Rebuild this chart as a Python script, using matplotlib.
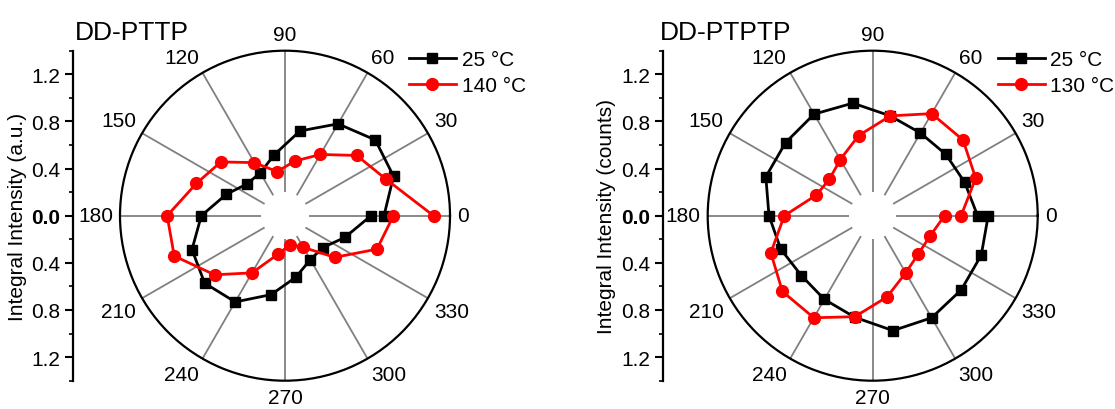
import numpy as np
import matplotlib
matplotlib.use('Agg')
import matplotlib.pyplot as plt
from matplotlib.ticker import FixedLocator, MultipleLocator, FuncFormatter

plt.rcParams['font.family'] = ['Liberation Sans', 'DejaVu Sans']

# ---------------- data ----------------
angles_deg = [0, 20, 40, 60, 80, 100, 120, 140, 160, 180,
              200, 220, 240, 260, 280, 300, 320, 340, 360]

pttp_25 = [0.84, 0.98, 1.00, 0.90, 0.73, 0.525, 0.42, 0.42, 0.53, 0.71,
           0.84, 0.89, 0.845, 0.68, 0.53, 0.43, 0.42, 0.54, 0.73]
pttp_140 = [1.26, 0.91, 0.795, 0.60, 0.47, 0.38, 0.52, 0.71, 0.80, 1.00,
            1.00, 0.78, 0.56, 0.33, 0.25, 0.31, 0.55, 0.83, 0.92]

ptptp_25 = [0.89, 0.83, 0.81, 0.81, 0.86, 0.97, 0.995, 0.965, 0.965, 0.88,
            0.83, 0.79, 0.82, 0.875, 0.99, 1.00, 0.98, 0.98, 0.98]
ptptp_130 = [0.75, 0.93, 1.00, 1.00, 0.86, 0.69, 0.55, 0.48, 0.51, 0.75,
             0.92, 1.00, 1.00, 0.87, 0.70, 0.56, 0.505, 0.515, 0.61]

theta_ticks = [0, 30, 60, 90, 120, 150, 180, 210, 240, 270, 300, 330]
theta_labels = [str(t) for t in theta_ticks]
theta_minor = [15, 45, 75, 105, 135, 165, 195, 225, 255, 285, 315, 345]
r_ticks = [-1.2, -0.8, -0.4, 0.0, 0.4, 0.8, 1.2]
r_max = 1.4
r_spoke_start = 0.2

titles = ['DD-PTTP', 'DD-PTPTP']
ylabels = ['Integral Intensity (a.u.)', 'Integral Intensity (counts)']
series_labels = [['25 °C', '140 °C'], ['25 °C', '130 °C']]
series_values = [[pttp_25, pttp_140], [ptptp_25, ptptp_130]]

# ---------------- layout ----------------
W, H = 1115, 410
fig = plt.figure(figsize=(W / 100, H / 100), dpi=100)


def fx(px):
    return px / W


def fy(py):
    return 1 - py / H


R = 165
cy = 216.7
centers_x = [285, 872.7]
title_x = [75, 660]
axis_x = [73, 662.5]
ylabel_x = [18, 606]
legend_x = [409, 997.7]

for i in range(2):
    cx = centers_x[i]
    ax = fig.add_axes([fx(cx - R), fy(cy + R), 2 * R / W, 2 * R / H],
                      projection='polar')
    ax.set_ylim(0, r_max)
    ax.grid(False)
    ax.set_yticks([])
    ax.spines['polar'].set_linewidth(1.6)
    ax.set_xticks(np.deg2rad(theta_ticks))
    ax.set_xticklabels(theta_labels, fontsize=15)
    ax.set_xticks(np.deg2rad(theta_minor), minor=True)
    ax.tick_params(axis='x', which='major', direction='in', length=6,
                   width=1.5, color='black', pad=-2)
    ax.tick_params(axis='x', which='minor', direction='in', length=4,
                   width=1.2, color='black')
    # anchor each angle label by its edge facing the circle
    for t, lbl in zip(theta_ticks, ax.get_xticklabels()):
        c, s = np.cos(np.deg2rad(t)), np.sin(np.deg2rad(t))
        lbl.set_ha('left' if c > 0.1 else ('right' if c < -0.1 else 'center'))
        lbl.set_va('bottom' if s > 0.1 else ('top' if s < -0.1 else 'center'))

    # spokes
    ax.vlines(np.deg2rad(theta_ticks), r_spoke_start, r_max,
              colors='#808080', linewidth=1.3, zorder=1)

    th = np.deg2rad(angles_deg)
    l1, = ax.plot(th, series_values[i][0], color='black', lw=2, marker='s',
                  ms=7, zorder=3, clip_on=False, label=series_labels[i][0])
    l2, = ax.plot(th, series_values[i][1], color='#ff0000', lw=2, marker='o',
                  ms=8.5, zorder=4, clip_on=False, label=series_labels[i][1])

    fig.legend(handles=[l1, l2], loc='upper left',
               bbox_to_anchor=(fx(legend_x[i]), fy(51)),
               bbox_transform=fig.transFigure, frameon=False, fontsize=15,
               borderpad=0, borderaxespad=0, handlelength=2.25,
               handletextpad=0.28, labelspacing=0.35, numpoints=1)

    fig.text(fx(title_x[i]), fy(39.5), titles[i], fontsize=19,
             ha='left', va='baseline')

    # linear radial scale axis on the left
    axl = fig.add_axes([fx(axis_x[i]), fy(cy + R), 0.02, 2 * R / H])
    axl.set_ylim(-r_max, r_max)
    axl.patch.set_visible(False)
    for s in ['top', 'right', 'bottom']:
        axl.spines[s].set_visible(False)
    axl.spines['left'].set_linewidth(1.6)
    axl.set_xticks([])
    axl.yaxis.set_major_locator(FixedLocator(r_ticks))
    axl.yaxis.set_major_formatter(FuncFormatter(lambda v, p: f"{abs(v):.1f}"))
    axl.yaxis.set_minor_locator(MultipleLocator(0.2))
    axl.tick_params(axis='y', which='major', direction='out', length=6,
                    width=1.5, labelsize=15, pad=3)
    axl.tick_params(axis='y', which='minor', direction='out', length=3,
                    width=1.2)
    axl.set_ylabel(ylabels[i], fontsize=15, va='center')
    axl.yaxis.set_label_coords(fx(ylabel_x[i]), fy(cy),
                               transform=fig.transFigure)
    for lbl in axl.get_yticklabels():
        if lbl.get_text() == '0.0':
            lbl.set_fontweight('bold')

fig.savefig('out.png', dpi=100)
